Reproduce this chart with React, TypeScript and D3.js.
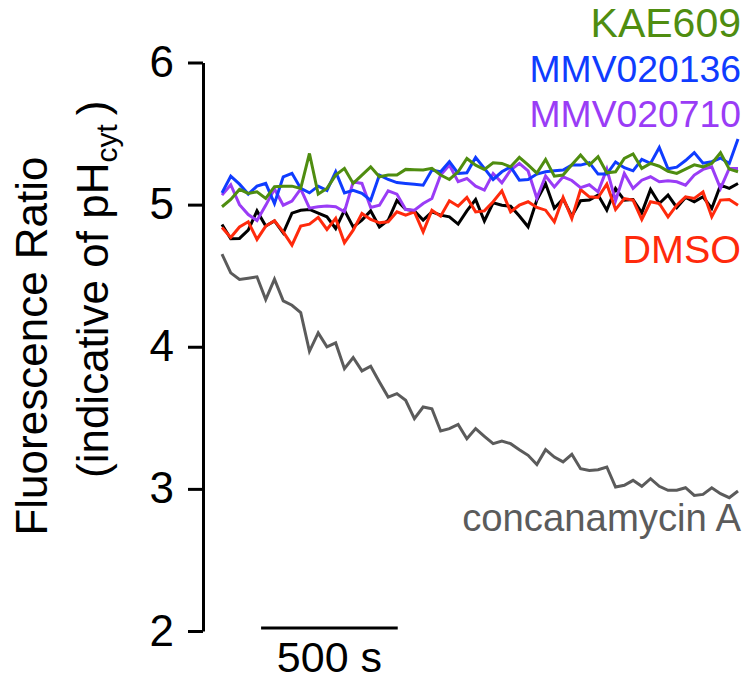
import React, { useRef, useEffect } from 'react';
import { select, scaleLinear, axisLeft, line } from 'd3';

// readings every ~32 s, ratio values
const timeStep = 32;
const yTicks = [2, 3, 4, 5, 6];
const scaleBarSeconds = 500;
const scaleBarLabel = '500 s';

const kae609 = [
  4.985, 5.036, 5.107, 5.079, 5.09, 5.044, 5.126, 5.13, 5.13, 5.114,
  5.36, 5.074, 5.114, 5.208, 5.255, 5.149, 5.208, 5.266, 5.196, 5.208,
  5.208, 5.248, 5.245, 5.243, 5.255, 5.208, 5.177, 5.231, 5.325, 5.278,
  5.248, 5.295, 5.29, 5.266, 5.332, 5.28, 5.222, 5.318, 5.2, 5.208,
  5.28, 5.349, 5.278, 5.337, 5.224, 5.231, 5.325, 5.356, 5.255, 5.29,
  5.27, 5.235, 5.22, 5.25, 5.28, 5.266, 5.29, 5.365, 5.25, 5.231,
];
const mmv020136 = [
  5.083, 5.2, 5.144, 5.074, 5.13, 5.149, 5.008, 5.196, 5.22, 5.114,
  5.083, 5.13, 5.1, 5.231, 5.083, 5.1, 5.079, 5.03, 5.208, 5.177,
  5.155, 5.149, 5.144, 5.137, 5.243, 5.231, 5.302, 5.219, 5.224, 5.332,
  5.255, 5.177, 5.231, 5.266, 5.172, 5.177, 5.215, 5.231, 5.238, 5.243,
  5.278, 5.278, 5.295, 5.215, 5.215, 5.3, 5.26, 5.238, 5.318, 5.29,
  5.402, 5.252, 5.264, 5.31, 5.366, 5.292, 5.302, 5.328, 5.29, 5.462,
];
const mmv020710 = [
  5.067, 5.14, 5.0, 4.93, 4.888, 4.995, 5.11, 4.996, 5.025, 5.11,
  4.975, 4.985, 4.99, 4.985, 4.95, 5.16, 5.149, 4.98, 4.996, 5.097,
  5.074, 4.966, 4.961, 5.008, 5.043, 5.208, 5.278, 5.161, 5.184, 5.13,
  5.102, 5.219, 5.153, 5.243, 5.29, 5.237, 5.045, 5.201, 5.125, 5.196,
  5.17, 5.12, 5.14, 5.09, 5.25, 5.027, 5.219, 5.114, 5.172, 5.196,
  5.161, 5.168, 5.161, 5.137, 5.208, 5.248, 5.266, 5.114, 5.255, 5.255,
];
const untreated = [
  4.86, 4.76, 4.762, 4.82, 4.956, 4.85, 4.885, 4.8, 4.94, 4.96,
  4.966, 4.94, 4.914, 4.832, 4.96, 4.843, 4.891, 4.956, 4.843, 4.89,
  5.03, 4.966, 4.956, 4.891, 4.949, 4.926, 4.914, 4.863, 4.956, 5.036,
  4.885, 5.013, 4.996, 4.989, 4.92, 4.844, 5.032, 5.147, 4.975, 5.04,
  4.919, 5.027, 5.032, 5.067, 4.961, 5.114, 5.032, 5.036, 4.942, 5.107,
  5.008, 5.067, 4.98, 5.05, 5.02, 5.055, 4.973, 5.137, 5.114, 5.149,
];
const dmso = [
  4.839, 4.769, 4.843, 4.879, 4.755, 4.849, 4.886, 4.808, 4.715, 4.849,
  4.863, 4.91, 4.825, 4.903, 4.731, 4.82, 4.938, 4.896, 4.872, 4.879,
  4.95, 4.926, 4.949, 4.809, 4.961, 4.919, 5.027, 4.989, 5.05, 4.949,
  4.956, 5.02, 5.097, 4.949, 4.996, 5.02, 4.98, 4.961, 4.879, 5.05,
  4.902, 5.106, 5.055, 5.05, 5.144, 4.966, 5.043, 5.032, 4.896, 5.02,
  5.008, 4.914, 4.996, 5.055, 5.043, 5.09, 4.914, 5.032, 5.036, 4.996,
];
const concanamycinA = [
  4.651, 4.52, 4.473, 4.482, 4.492, 4.332, 4.475, 4.323, 4.292, 4.241,
  3.968, 4.097, 3.999, 4.027, 3.846, 3.924, 3.83, 3.863, 3.752, 3.646,
  3.67, 3.623, 3.494, 3.576, 3.564, 3.407, 3.424, 3.454, 3.353, 3.424,
  3.37, 3.318, 3.337, 3.318, 3.276, 3.236, 3.172, 3.276, 3.224, 3.19,
  3.243, 3.142, 3.13, 3.135, 3.154, 3.013, 3.025, 3.06, 3.018, 3.072,
  3.018, 2.99, 2.99, 3.008, 2.954, 2.961, 3.008, 2.966, 2.938, 2.985,
];

const FONT = '"Liberation Sans", Arial, Helvetica, sans-serif';

const Chart = () => {
  const svgRef = useRef(null);

  useEffect(() => {
    const svg = select(svgRef.current);
    svg.selectAll('*').remove();

    const n = kae609.length;
    const xScale = scaleLinear().domain([0, (n - 1) * timeStep]).range([222, 738]);
    const yScale = scaleLinear().domain([2, 6]).range([631, 62.5]);

    // draw order: bottom to top
    const series = [
      { values: concanamycinA, color: '#5b5b5b', label: 'concanamycin A', ly: 531, fs: 38.3 },
      { values: untreated, color: '#000000', label: null, ly: 0, fs: 0 },
      { values: dmso, color: '#ff2a0c', label: 'DMSO', ly: 263, fs: 39.5 },
      { values: mmv020710, color: '#9a3cf6', label: 'MMV020710', ly: 127, fs: 37.3 },
      { values: mmv020136, color: '#0f3cff', label: 'MMV020136', ly: 82, fs: 37.3 },
      { values: kae609, color: '#4f8d10', label: 'KAE609', ly: 37, fs: 41 },
    ];

    const path = line()
      .x((d, i) => xScale(i * timeStep))
      .y((d) => yScale(d));

    svg
      .selectAll('.trace')
      .data(series)
      .join('path')
      .attr('class', 'trace')
      .attr('d', (s) => path(s.values))
      .attr('fill', 'none')
      .attr('stroke', (s) => s.color)
      .attr('stroke-width', 3)
      .attr('stroke-linejoin', 'miter');

    svg
      .selectAll('.label')
      .data(series.filter((s) => s.label))
      .join('text')
      .attr('class', 'label')
      .attr('x', 741)
      .attr('y', (s) => s.ly)
      .attr('text-anchor', 'end')
      .attr('fill', (s) => s.color)
      .style('font-family', FONT)
      .style('font-size', (s) => `${s.fs}px`)
      .text((s) => s.label);

    // y axis
    const yAxis = axisLeft(yScale)
      .tickValues(yTicks)
      .tickFormat((d) => String(d))
      .tickSize(15)
      .tickSizeOuter(0)
      .tickPadding(14);
    const g = svg.append('g').attr('transform', 'translate(203,0)').call(yAxis);
    g.selectAll('path, line').attr('stroke', '#000').attr('stroke-width', 3);
    g.selectAll('text')
      .attr('fill', '#000')
      .style('font-family', FONT)
      .style('font-size', '44px');

    // time scale bar
    const barStart = 143;
    svg
      .append('line')
      .attr('x1', xScale(barStart))
      .attr('x2', xScale(barStart + scaleBarSeconds))
      .attr('y1', 628)
      .attr('y2', 628)
      .attr('stroke', '#000')
      .attr('stroke-width', 3);
    svg
      .append('text')
      .attr('x', xScale(barStart + scaleBarSeconds / 2))
      .attr('y', 672)
      .attr('text-anchor', 'middle')
      .style('font-family', FONT)
      .style('font-size', '43px')
      .text(scaleBarLabel);

    // y title
    svg
      .append('text')
      .attr('transform', 'translate(47,346) rotate(-90)')
      .attr('text-anchor', 'middle')
      .style('font-family', FONT)
      .style('font-size', '44px')
      .text('Fluorescence Ratio');
    const t2 = svg
      .append('text')
      .attr('transform', 'translate(108,478) rotate(-90)')
      .attr('text-anchor', 'start')
      .style('font-family', FONT)
      .style('font-size', '44px');
    t2.append('tspan').text('(indicative of pH');
    t2.append('tspan').attr('dy', 9).style('font-size', '30px').text('cyt');
    t2.append('tspan').attr('dy', -9).text('\u2009)');
  }, []);

  return (
    <svg
      ref={svgRef}
      width={748}
      height={682}
      style={{ position: 'absolute', left: 0, top: 0, background: '#fff' }}
    />
  );
};

export default function App() {
  return <Chart />;
}
